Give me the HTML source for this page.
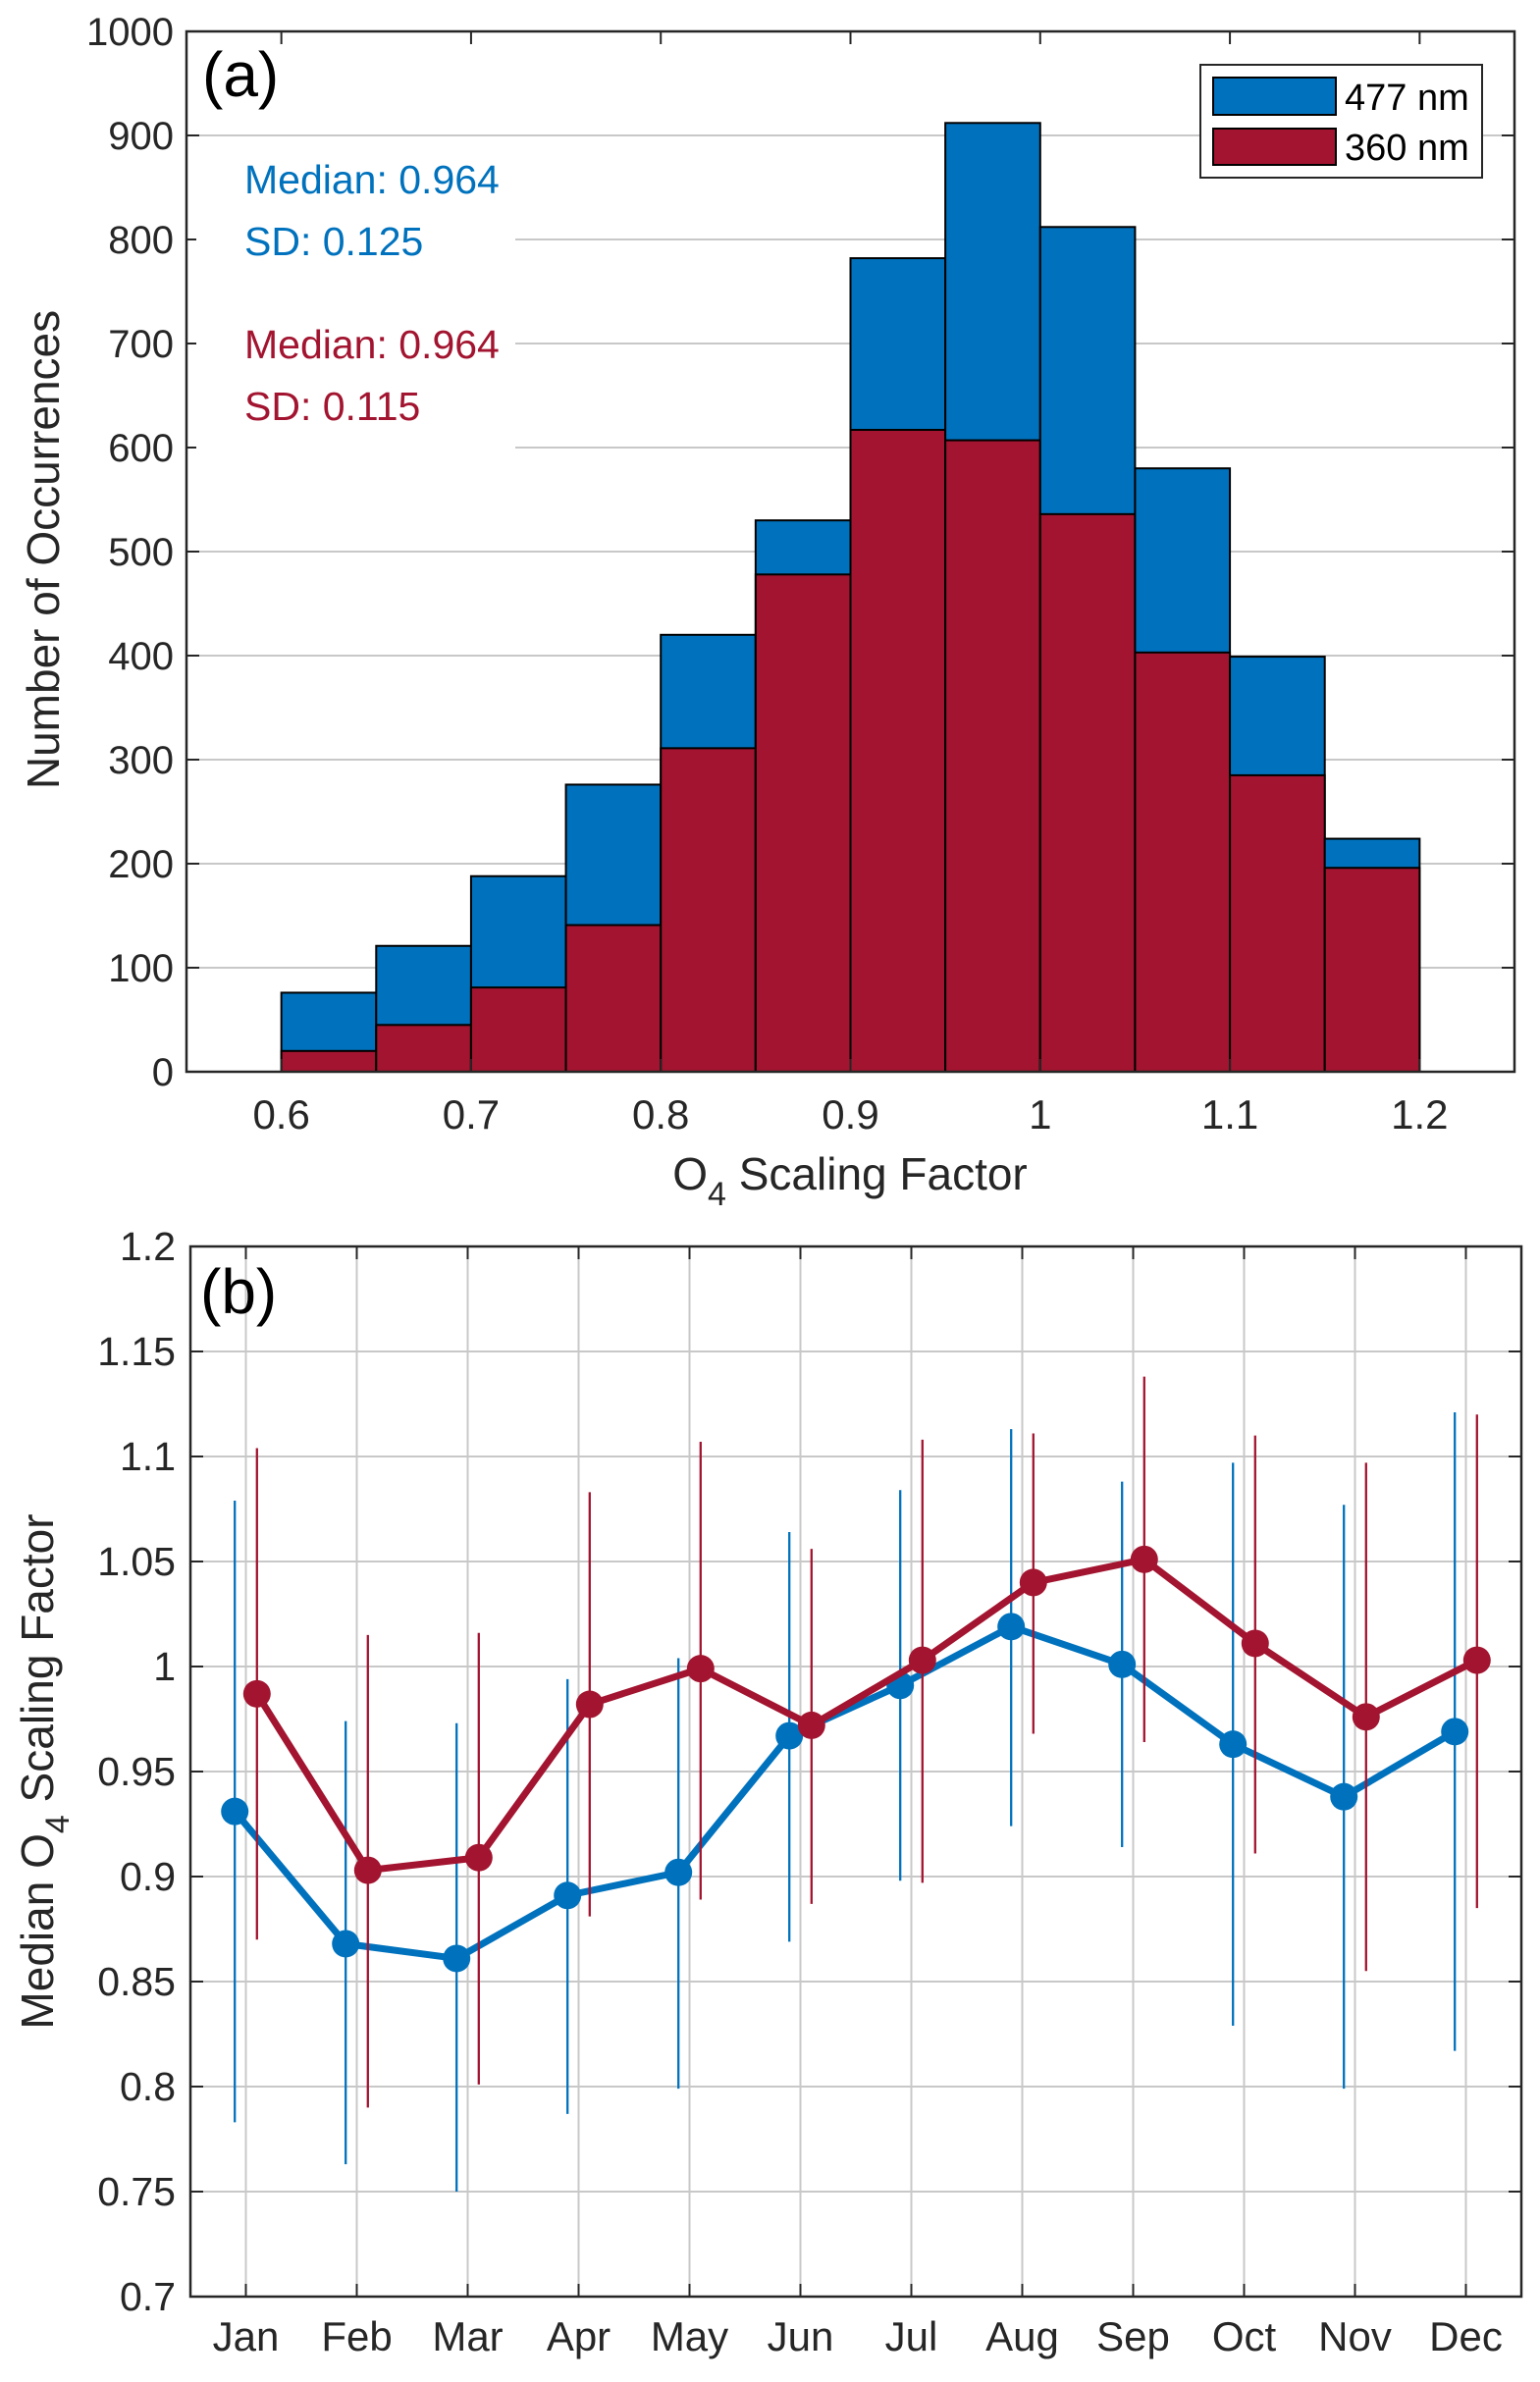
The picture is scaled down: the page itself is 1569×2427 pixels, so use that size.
<!DOCTYPE html>
<html><head><meta charset="utf-8"><style>
html,body{margin:0;padding:0;background:#fff;}
svg{display:block;font-family:"Liberation Sans",Arial,sans-serif;}
</style></head><body>
<svg id="fig" width="1569" height="2427" viewBox="0 0 1569 2427" xmlns="http://www.w3.org/2000/svg"></svg>
<script>
// ---- Panel (a) data ----
const binEdgesStart = [0.6,0.65,0.7,0.75,0.8,0.85,0.9,0.95,1.0,1.05,1.1,1.15];
const counts477 = [76,121,188,276,420,530,782,912,812,580,399,224];
const counts360 = [20,45,81,141,311,478,617,607,536,403,285,196];
const histXTicks = [0.6,0.7,0.8,0.9,1,1.1,1.2];
const histXTickLabels = ["0.6","0.7","0.8","0.9","1","1.1","1.2"];
const histYTicks = [0,100,200,300,400,500,600,700,800,900,1000];
// ---- Panel (b) data ----
const months = ["Jan","Feb","Mar","Apr","May","Jun","Jul","Aug","Sep","Oct","Nov","Dec"];
const med477 = [0.931,0.868,0.861,0.891,0.902,0.967,0.991,1.019,1.001,0.963,0.938,0.969];
const lo477 = [0.783,0.763,0.750,0.787,0.799,0.869,0.898,0.924,0.914,0.829,0.799,0.817];
const hi477 = [1.079,0.974,0.973,0.994,1.004,1.064,1.084,1.113,1.088,1.097,1.077,1.121];
const med360 = [0.987,0.903,0.909,0.982,0.999,0.972,1.003,1.040,1.051,1.011,0.976,1.003];
const lo360 = [0.870,0.790,0.801,0.881,0.889,0.887,0.897,0.968,0.964,0.911,0.855,0.885];
const hi360 = [1.104,1.015,1.016,1.083,1.107,1.056,1.108,1.111,1.138,1.110,1.097,1.120];
const lineYTicks = [0.7,0.75,0.8,0.85,0.9,0.95,1,1.05,1.1,1.15,1.2];
const lineYTickLabels = ["0.7","0.75","0.8","0.85","0.9","0.95","1","1.05","1.1","1.15","1.2"];

const BLUE="#0072bd", RED="#a2142f", AX="#262626", GRID="#c8c8c8";
const svg=document.getElementById('fig');
const NS="http://www.w3.org/2000/svg";
function mk(tag,attrs,parent,text){const e=document.createElementNS(NS,tag);for(const k in attrs)e.setAttribute(k,attrs[k]);if(text!==undefined)e.textContent=text;(parent||svg).appendChild(e);return e;}

// ===== Panel (a) =====
const A={l:190,r:1543,t:32,b:1092,x0:0.55,x1:1.25,y0:0,y1:1000};
const ax=v=>A.l+(v-A.x0)/(A.x1-A.x0)*(A.r-A.l);
const ay=v=>A.b-(v-A.y0)/(A.y1-A.y0)*(A.b-A.t);
const ga=mk('g',{});


histYTicks.forEach(v=>{if(v>0&&v<1000){const g=mk('line',{x1:A.l,x2:A.r,y1:ay(v),y2:ay(v),stroke:GRID,'stroke-width':2},ga);}});
binEdgesStart.forEach((s,i)=>{
  const w=ax(s+0.05)-ax(s);
  const b=mk('rect',{x:ax(s),y:ay(counts477[i]),width:w,height:ay(0)-ay(counts477[i]),fill:BLUE,stroke:'#000','stroke-width':2},ga);
  
  const r=mk('rect',{x:ax(s),y:ay(counts360[i]),width:w,height:ay(0)-ay(counts360[i]),fill:RED,stroke:'#000','stroke-width':2},ga);
  
});
mk('rect',{x:A.l,y:A.t,width:A.r-A.l,height:A.b-A.t,fill:'none',stroke:AX,'stroke-width':2.5},ga);
histXTicks.forEach((v,i)=>{
  mk('line',{x1:ax(v),x2:ax(v),y1:A.b,y2:A.b-13,stroke:AX,'stroke-width':2},ga);
  mk('line',{x1:ax(v),x2:ax(v),y1:A.t,y2:A.t+13,stroke:AX,'stroke-width':2},ga);
  const t=mk('text',{x:ax(v),y:A.b+58,'font-size':42,fill:AX,'text-anchor':'middle'},ga,histXTickLabels[i]);
  
});
histYTicks.forEach(v=>{
  mk('line',{x1:A.l,x2:A.l+13,y1:ay(v),y2:ay(v),stroke:AX,'stroke-width':2},ga);
  mk('line',{x1:A.r,x2:A.r-13,y1:ay(v),y2:ay(v),stroke:AX,'stroke-width':2},ga);
  const t=mk('text',{x:177,y:ay(v)+14,'font-size':40,fill:AX,'text-anchor':'end'},ga,String(v));
  
});
let t=mk('text',{x:0,y:0,'font-size':46,fill:AX,'text-anchor':'middle',transform:'translate(60,560) rotate(-90)'},ga,'Number of Occurrences');

t=mk('text',{x:866,y:1212,'font-size':46,fill:AX,'text-anchor':'middle'},ga);

t.innerHTML='O<tspan font-size="34" dy="16">4</tspan><tspan dy="-16"> Scaling Factor</tspan>';
t=mk('text',{x:206,y:98,'font-size':64,fill:'#000'},ga,'(a)');

// annotations
mk('rect',{x:200,y:160,width:325,height:300,fill:'#fff'},ga);
[["Median: 0.964",197,BLUE,'median-477'],["SD: 0.125",260,BLUE,'sd-477'],["Median: 0.964",365,RED,'median-360'],["SD: 0.115",428,RED,'sd-360']].forEach(a=>{
  const e=mk('text',{x:249,y:a[1],'font-size':41,fill:a[2]},ga,a[0]);
});
// legend
const lg=mk('g',{},ga);
mk('rect',{x:1223,y:66,width:287,height:115,fill:'#fff',stroke:AX,'stroke-width':2},lg);
mk('rect',{x:1236,y:79,width:125,height:38,fill:BLUE,stroke:'#000','stroke-width':2},lg);
mk('rect',{x:1236,y:131,width:125,height:37,fill:RED,stroke:'#000','stroke-width':2},lg);
t=mk('text',{x:1370,y:112,'font-size':38,fill:'#000'},lg,'477 nm');
t=mk('text',{x:1370,y:163,'font-size':38,fill:'#000'},lg,'360 nm');

// ===== Panel (b) =====
const B={l:194,r:1550,t:1270,b:2340,x0:0.5,x1:12.5,y0:0.7,y1:1.2};
const bx=v=>B.l+(v-B.x0)/(B.x1-B.x0)*(B.r-B.l);
const by=v=>B.b-(v-B.y0)/(B.y1-B.y0)*(B.b-B.t);
const gb=mk('g',{});


lineYTicks.forEach(v=>{if(v>0.7&&v<1.2){mk('line',{x1:B.l,x2:B.r,y1:by(v),y2:by(v),stroke:GRID,'stroke-width':2},gb);}});
months.forEach((m,i)=>{mk('line',{x1:bx(i+1),x2:bx(i+1),y1:B.t,y2:B.b,stroke:GRID,'stroke-width':2},gb);});
mk('rect',{x:B.l,y:B.t,width:B.r-B.l,height:B.b-B.t,fill:'none',stroke:AX,'stroke-width':2.5},gb);
months.forEach((m,i)=>{
  mk('line',{x1:bx(i+1),x2:bx(i+1),y1:B.b,y2:B.b-13,stroke:AX,'stroke-width':2},gb);
  mk('line',{x1:bx(i+1),x2:bx(i+1),y1:B.t,y2:B.t+13,stroke:AX,'stroke-width':2},gb);
  const e=mk('text',{x:bx(i+1),y:2395,'font-size':42,fill:AX,'text-anchor':'middle'},gb,m);
  
});
lineYTicks.forEach((v,i)=>{
  mk('line',{x1:B.l,x2:B.l+13,y1:by(v),y2:by(v),stroke:AX,'stroke-width':2},gb);
  mk('line',{x1:B.r,x2:B.r-13,y1:by(v),y2:by(v),stroke:AX,'stroke-width':2},gb);
  const e=mk('text',{x:179,y:by(v)+14,'font-size':41,fill:AX,'text-anchor':'end'},gb,lineYTickLabels[i]);
  
});
function series(med,lo,hi,off,col,name){
  const g=mk('g',{},gb);
  
  
  med.forEach((v,i)=>{const x=bx(i+1+off);const e=mk('line',{x1:x,x2:x,y1:by(lo[i]),y2:by(hi[i]),stroke:col,'stroke-width':2.3},g);
    });
  const p=mk('polyline',{points:med.map((v,i)=>bx(i+1+off)+','+by(v)).join(' '),fill:'none',stroke:col,'stroke-width':7,'stroke-linejoin':'round'},g);
  
  med.forEach((v,i)=>{const c=mk('circle',{cx:bx(i+1+off),cy:by(v),r:14,fill:col},g);
    });
}
series(med477,lo477,hi477,-0.1,BLUE,'series-477nm');
series(med360,lo360,hi360,0.1,RED,'series-360nm');
t=mk('text',{x:0,y:0,'font-size':46,fill:AX,'text-anchor':'middle',transform:'translate(54,1805) rotate(-90)'},gb);

t.innerHTML='Median O<tspan font-size="34" dy="16">4</tspan><tspan dy="-16"> Scaling Factor</tspan>';
t=mk('text',{x:204,y:1338,'font-size':64,fill:'#000'},gb,'(b)');

</script>
</body></html>
